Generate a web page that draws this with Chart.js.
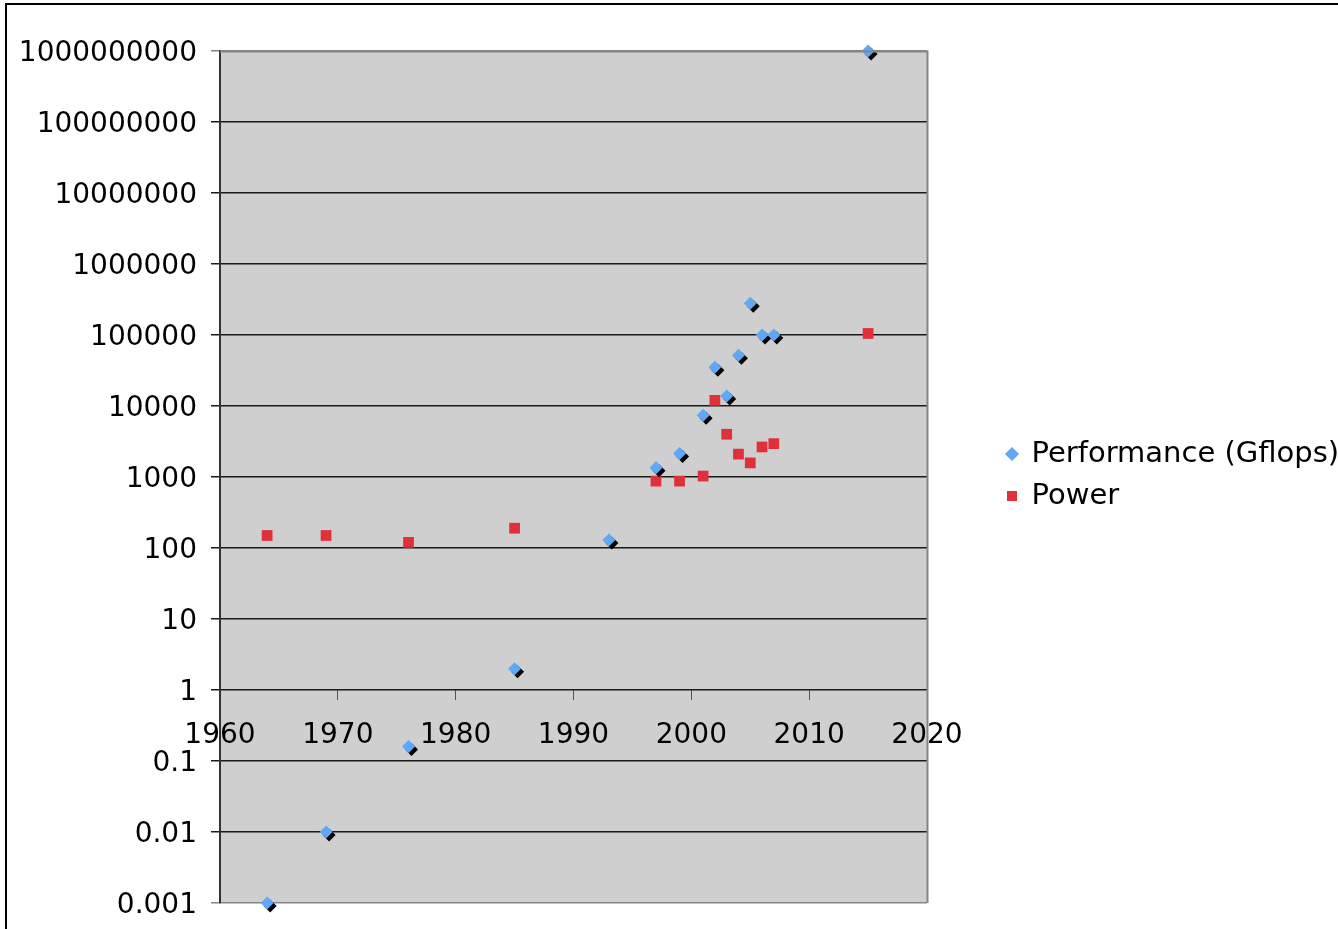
<!DOCTYPE html>
<html>
<head>
    <meta charset="UTF-8">
    <title>Performance and Power</title>
    <script src="https://cdn.jsdelivr.net/npm/chart.js"></script>
    <style>
        body { margin: 0; width: 1338px; height: 929px; overflow: hidden; position: relative; background: #fff; }
        #frame { position: absolute; left: 5px; top: 3px; width: 1400px; height: 1000px; border: 2px solid #000; }
        #myChart { position: absolute; left: 0; top: 0; }
    </style>
</head>
<body>
    <div id="frame"></div>
    <canvas id="myChart" width="1338" height="929"></canvas>

    <script>
        // Performance (Gflops)
        const perfYears  = [1964, 1969, 1976, 1985, 1993, 1997, 1999, 2001, 2002, 2003, 2004, 2005, 2006, 2007, 2015];
        const perfValues = [0.001, 0.01, 0.16, 2, 130, 1350, 2150, 7400, 35000, 13800, 52000, 280000, 100000, 100000, 1000000000];

        // Power
        const powerYears  = [1964, 1969, 1976, 1985, 1997, 1999, 2001, 2002, 2003, 2004, 2005, 2006, 2007, 2015];
        const powerValues = [150, 150, 120, 190, 875, 875, 1030, 12000, 4000, 2100, 1580, 2650, 2950, 105000];

        const yTicks = [0.001, 0.01, 0.1, 1, 10, 100, 1000, 10000, 100000, 1000000, 10000000, 100000000, 1000000000];
        const xTicks = [1960, 1970, 1980, 1990, 2000, 2010, 2020];

        const font = { family: 'DejaVu Sans', size: 28 };
        const legendFont = { family: 'DejaVu Sans', size: 29 };
        const legendShiftX = 67;
        const legendShiftY = -2;

        // gray plot area, drop shadow for performance markers, legend placement
        const excelLook = {
            id: 'excelLook',
            beforeInit(chart) {
                const legend = chart.legend;
                if (legend) {
                    const fit = legend.fit;
                    legend.fit = function () {
                        fit.call(this);
                        this.width = 411;
                    };
                }
            },
            afterLayout(chart) {
                const lg = chart.legend;
                lg.left += legendShiftX;
                lg.right += legendShiftX;
                lg.top += legendShiftY;
                lg.bottom += legendShiftY;
            },
            beforeDraw(chart) {
                const a = chart.chartArea, ctx = chart.ctx;
                ctx.save();
                ctx.fillStyle = '#cfcfcf';
                ctx.fillRect(a.left, a.top, a.right - a.left, a.bottom - a.top);
                ctx.restore();
            },
            afterDatasetsDraw(chart) {
                const a = chart.chartArea, ctx = chart.ctx;
                ctx.save();
                ctx.strokeStyle = '#858585';
                ctx.lineWidth = 2;
                ctx.beginPath();
                ctx.moveTo(a.left, a.top + 0.5);
                ctx.lineTo(a.right + 0.5, a.top + 0.5);
                ctx.lineTo(a.right + 0.5, a.bottom);
                ctx.stroke();
                ctx.restore();
            },
            beforeDatasetDraw(chart, args) {
                if (args.index === 0) {
                    const ctx = chart.ctx;
                    ctx.save();
                    ctx.shadowColor = '#000';
                    ctx.shadowOffsetX = 3;
                    ctx.shadowOffsetY = 3;
                    ctx.shadowBlur = 0;
                }
            },
            afterDatasetDraw(chart, args) {
                if (args.index === 0) chart.ctx.restore();
            }
        };

        const ctx = document.getElementById('myChart').getContext('2d');
        new Chart(ctx, {
            type: 'scatter',
            data: {
                datasets: [
                    {
                        label: 'Performance (Gflops)',
                        data: perfYears.map((x, i) => ({ x: x, y: perfValues[i] })),
                        pointStyle: 'rectRot',
                        pointRadius: 6.5,
                        backgroundColor: '#5fa8f5',
                        borderColor: '#5fa8f5',
                        borderWidth: 0,
                        clip: false
                    },
                    {
                        label: 'Power',
                        data: powerYears.map((x, i) => ({ x: x, y: powerValues[i] })),
                        pointStyle: 'rect',
                        pointRadius: 7.6,
                        backgroundColor: '#e0303a',
                        borderColor: '#e0303a',
                        borderWidth: 0,
                        clip: false
                    }
                ]
            },
            options: {
                responsive: false,
                animation: false,
                layout: { padding: { left: 20, top: 51, bottom: 26, right: 0 } },
                scales: {
                    x: {
                        type: 'linear',
                        position: { y: 1 },
                        min: 1960,
                        max: 2020,
                        afterBuildTicks(scale) {
                            scale.ticks = xTicks.map(v => ({ value: v }));
                        },
                        ticks: {
                            color: '#000',
                            font: font,
                            padding: 19,
                            maxRotation: 0,
                            callback: v => String(v)
                        },
                        grid: {
                            drawOnChartArea: false,
                            drawTicks: true,
                            tickLength: 10,
                            color: '#555'
                        },
                        border: { display: false }
                    },
                    y: {
                        type: 'logarithmic',
                        min: 0.001,
                        max: 1000000000,
                        afterBuildTicks(scale) {
                            scale.ticks = yTicks.map(v => ({ value: v }));
                        },
                        afterFit(scale) {
                            scale.width = 200;
                            scale.paddingTop = 0;
                            scale.paddingBottom = 0;
                        },
                        ticks: {
                            color: '#000',
                            font: font,
                            padding: 14,
                            labelOffset: 3,
                            autoSkip: false,
                            callback: (v, i) => String(yTicks[i])
                        },
                        grid: {
                            tickLength: 9,
                            lineWidth: 1.5,
                            color: c => (c.tick && (c.tick.value === 1000000000 || c.tick.value === 0.001)) ? '#858585' : '#1a1a1a'
                        },
                        border: { display: true, color: '#333', width: 2 }
                    }
                },
                plugins: {
                    legend: {
                        position: 'right',
                        labels: {
                            usePointStyle: true,
                            boxWidth: 10,
                            boxHeight: 10,
                            color: '#000',
                            font: legendFont,
                            padding: 13
                        }
                    },
                    tooltip: { enabled: false }
                }
            },
            plugins: [excelLook]
        });
    </script>
</body>
</html>
